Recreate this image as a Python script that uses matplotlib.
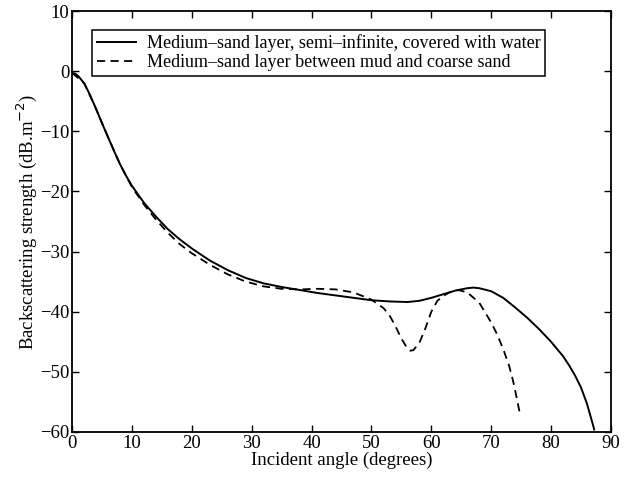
import numpy as np
import matplotlib
matplotlib.use("Agg")
import matplotlib.pyplot as plt

# values
angle_water = [0, 0.5, 1, 2, 3, 4, 5, 6, 7, 8, 9, 10, 12, 14, 16, 18, 20, 23,
               26, 29, 32, 35, 38, 41, 44, 47, 50, 53, 56, 58, 60, 62, 64, 66,
               67, 68, 70, 72, 74, 76, 78, 80, 82, 83, 84, 85, 86, 87, 87.2]
bs_water = [-0.3, -0.4, -0.8, -2.0, -4.0, -6.3, -8.7, -11.0, -13.3, -15.5,
            -17.4, -19.1, -21.9, -24.2, -26.3, -28.0, -29.5, -31.5, -33.1,
            -34.4, -35.3, -35.9, -36.4, -36.9, -37.3, -37.7, -38.1, -38.3,
            -38.4, -38.2, -37.7, -37.1, -36.5, -36.1, -36.0, -36.1, -36.6,
            -37.7, -39.3, -41.0, -42.9, -45.0, -47.4, -48.9, -50.6, -52.6,
            -55.3, -58.8, -59.6]

angle_layer = [0, 2, 4, 6, 8, 10, 12, 14, 16, 18, 20, 23, 26, 29, 32, 35, 38,
               41, 44, 47, 50, 52, 53, 54, 55, 56, 56.5, 57, 58, 59, 60, 61,
               62, 63, 64.5, 66, 68, 70, 71, 72, 73, 73.7, 74.3, 74.8]
bs_layer = [-0.3, -2.0, -6.3, -11.0, -15.5, -19.3, -22.2, -24.7, -26.9, -28.8,
            -30.3, -32.2, -33.8, -35.0, -35.8, -36.2, -36.3, -36.2, -36.3,
            -36.8, -38.0, -39.4, -40.6, -42.4, -44.5, -46.1, -46.5, -46.4,
            -45.2, -42.8, -40.0, -38.2, -37.4, -36.8, -36.4, -36.8, -38.5,
            -41.8, -43.8, -46.2, -49.0, -51.7, -54.5, -57.0]

labels = ["Medium\u2013sand layer, semi\u2013infinite, covered with water",
          "Medium\u2013sand layer between mud and coarse sand"]

plt.rcParams['font.family'] = ['Liberation Serif', 'DejaVu Serif']
plt.rcParams['font.size'] = 12

fig = plt.figure(figsize=(6.39, 4.82), dpi=100)
ax = fig.add_axes([0.113, 0.104, 0.843, 0.873])

ax.plot(angle_water, bs_water, color='black', lw=1.4, label=labels[0])
ax.plot(angle_layer, bs_layer, color='black', lw=1.3, dashes=(4.5, 3),
        label=labels[1])

ax.set_xlim(0, 90)
ax.set_ylim(-60, 10)
ax.set_xticks(np.arange(0, 91, 10))
ax.set_yticks(np.arange(-60, 11, 10))
ax.tick_params(direction='in', top=True, right=True, length=5, width=1,
               labelsize=13.5, pad=2)
for s in ax.spines.values():
    s.set_linewidth(1.3)

ax.set_xlabel("Incident angle (degrees)", fontsize=13.5, labelpad=0)
ax.set_ylabel("Backscattering strength (dB.m$^{-2}$)", fontsize=13.5, labelpad=1)

leg = ax.legend(loc='upper left', bbox_to_anchor=(0.037, 0.955), fontsize=13,
                fancybox=False, framealpha=1, edgecolor='black',
                handlelength=2.2, borderpad=0.25, labelspacing=0.1,
                handletextpad=0.6, borderaxespad=0)
leg.get_frame().set_linewidth(1.1)

fig.savefig("out.png", dpi=100)
